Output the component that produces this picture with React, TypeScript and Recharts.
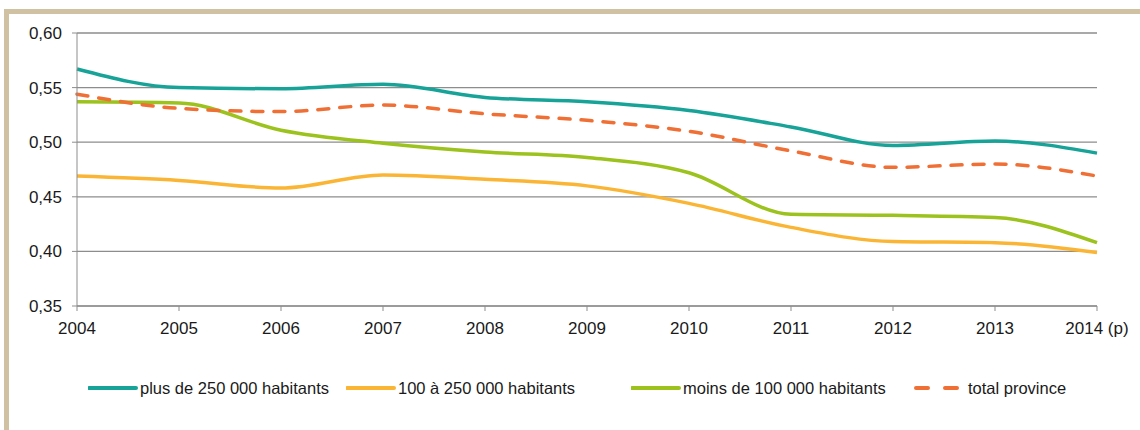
import { CartesianGrid, Line, LineChart, XAxis, YAxis } from "recharts";

// values
const years = ["2004", "2005", "2006", "2007", "2008", "2009", "2010", "2011", "2012", "2013", "2014 (p)"];
const plus250k = [0.567, 0.55, 0.549, 0.553, 0.541, 0.537, 0.529, 0.514, 0.497, 0.501, 0.49];
const from100to250k = [0.469, 0.465, 0.458, 0.47, 0.466, 0.46, 0.444, 0.422, 0.409, 0.408, 0.399];
const moins100k = [0.537, 0.536, 0.511, 0.499, 0.491, 0.486, 0.472, 0.434, 0.433, 0.431, 0.408];
const totalProvince = [0.544, 0.531, 0.528, 0.534, 0.526, 0.52, 0.51, 0.492, 0.477, 0.48, 0.469];
const yTicks = [0.35, 0.4, 0.45, 0.5, 0.55, 0.6];

const series = [
  { key: "plus", name: "plus de 250 000 habitants", color: "#17a398", dash: undefined as string | undefined },
  { key: "mid", name: "100 à 250 000 habitants", color: "#fbb535", dash: undefined },
  { key: "moins", name: "moins de 100 000 habitants", color: "#9cc21d", dash: undefined },
  { key: "total", name: "total province", color: "#ef6f35", dash: "11 11" },
];

const data = years.map((y, i) => ({
  year: y,
  plus: plus250k[i],
  mid: from100to250k[i],
  moins: moins100k[i],
  total: totalProvince[i],
}));

const font = "'Liberation Sans', Arial, sans-serif";
const beige = "#cfc1a1";
const axisGrey = "#8d8d8d";
const textColor = "#1a1a1a";

const legendX = [88, 346, 631, 913];

const XTick = (p: any) => (
  <text x={p.x} y={p.y + 21} textAnchor="middle" fontSize={17} fontFamily={font} fill={textColor}>
    {p.payload.value}
  </text>
);

const YTick = (p: any) => (
  <text x={p.x - 8} y={p.y + 6} textAnchor="end" fontSize={17} fontFamily={font} fill={textColor}>
    {Number(p.payload.value).toFixed(2).replace(".", ",")}
  </text>
);

export default function App() {
  return (
    <div style={{ position: "absolute", left: 0, top: 0, width: 1140, height: 430, background: "#fff", fontFamily: font }}>
      <div style={{ position: "absolute", left: 4, top: 9, width: 1136, height: 5, background: beige }} />
      <div style={{ position: "absolute", left: 4, top: 9, width: 5, height: 421, background: beige }} />
      <LineChart
        width={1140}
        height={340}
        data={data}
        margin={{ top: 33, right: 43, left: 17, bottom: 4 }}
        style={{ position: "absolute", left: 0, top: 0 }}
      >
        <CartesianGrid vertical={false} stroke={axisGrey} strokeWidth={1.3} />
        <XAxis
          dataKey="year"
          height={30}
          stroke={axisGrey}
          tickLine={{ stroke: axisGrey }}
          tickSize={5}
          interval={0}
          tick={XTick}
        />
        <YAxis
          width={60}
          domain={[0.35, 0.6]}
          ticks={yTicks}
          stroke={axisGrey}
          tickSize={5}
          tick={YTick}
        />
        {series.map((s) => (
          <Line
            key={s.key}
            type="monotone"
            dataKey={s.key}
            name={s.name}
            stroke={s.color}
            strokeWidth={3.5}
            strokeDasharray={s.dash}
            strokeLinecap={s.dash ? "round" : "butt"}
            dot={false}
            isAnimationActive={false}
          />
        ))}
      </LineChart>
      {series.map((s, i) => (
        <div key={s.key} style={{ position: "absolute", left: legendX[i], top: 378, height: 20, display: "flex", alignItems: "center", fontSize: 16.5, color: textColor, whiteSpace: "nowrap" }}>
          <svg width={50} height={8} style={{ marginRight: s.dash ? 5 : 2 }}>
            {s.dash ? (
              <>
                <line x1={3} y1={4} x2={15} y2={4} stroke={s.color} strokeWidth={4} strokeLinecap="round" />
                <line x1={32} y1={4} x2={44} y2={4} stroke={s.color} strokeWidth={4} strokeLinecap="round" />
              </>
            ) : (
              <line x1={1} y1={4} x2={48} y2={4} stroke={s.color} strokeWidth={4} strokeLinecap="round" />
            )}
          </svg>
          <span>{s.name}</span>
        </div>
      ))}
    </div>
  );
}
